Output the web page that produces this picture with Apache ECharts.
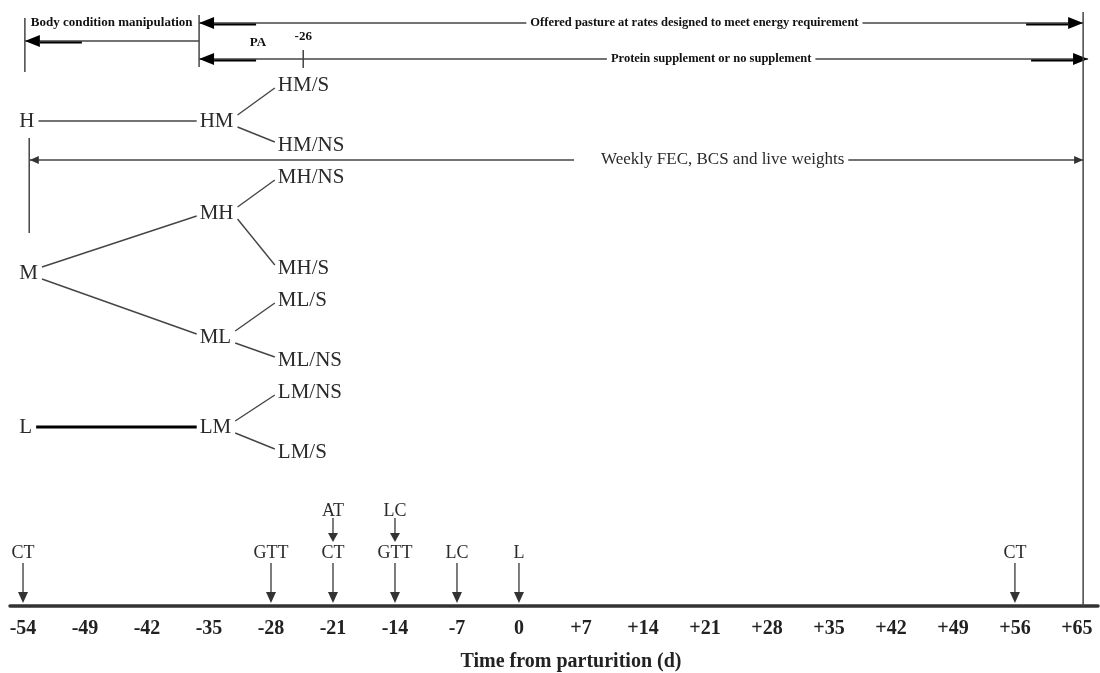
<!DOCTYPE html>
<html>
<head>
<meta charset="utf-8">
<title>Experimental timeline</title>
<script src="https://cdn.jsdelivr.net/npm/echarts@6/dist/echarts.min.js"></script>
<style>
  html, body { margin: 0; padding: 0; background: #fff; }
  #chart { width: 1100px; height: 673px; }
</style>
</head>
<body>
<div id="chart"></div>
<script>
// time axis, one slot per label (the figure is not drawn to scale)
const dayLabels = ['-54', '-49', '-42', '-35', '-28', '-21', '-14', '-7', '0',
  '+7', '+14', '+21', '+28', '+35', '+42', '+49', '+56', '+65'];

// diagram positions: x in axis slots (0 = -54 d, 17 = +65 d), y in rows above the time axis
const groupNames = ['H', 'HM', 'HM/S', 'HM/NS', 'M', 'MH', 'MH/NS', 'MH/S',
  'ML', 'ML/S', 'ML/NS', 'L', 'LM', 'LM/NS', 'LM/S'];
const groupX = [-0.06, 2.85, 4.11, 4.11, -0.06, 2.85, 4.11, 4.11,
  2.85, 4.11, 4.11, -0.06, 2.85, 4.11, 4.11];
const groupY = [48.5, 48.5, 52.1, 46.1, 33.3, 39.3, 42.9, 33.8,
  26.9, 30.6, 24.6, 17.9, 17.9, 21.4, 15.4];
const groupLinks = [['H', 'HM'], ['HM', 'HM/S'], ['HM', 'HM/NS'],
  ['M', 'MH'], ['M', 'ML'], ['MH', 'MH/NS'], ['MH', 'MH/S'],
  ['ML', 'ML/S'], ['ML', 'ML/NS'], ['L', 'LM'], ['LM', 'LM/NS'], ['LM', 'LM/S']];

const periodNames = ['Body condition manipulation',
  'Offered pasture at rates designed to meet energy requirement',
  'Protein supplement or no supplement',
  'Weekly FEC, BCS and live weights'];
const periodKind = ['treatment', 'treatment', 'treatment', 'sampling'];
const periodFrom = [2.84, 2.84, 2.84, 0.11];
const periodTo = [0.03, 17.10, 17.18, 17.10];
const periodRow = [56.5, 58.3, 54.7, 44.6];
const periodTwoHeads = [false, true, true, true];
const periodLabelX = [null, 10.83, 11.10, 11.10];

// upright rules: [x, top row, bottom row]
const ruleLines = [[0.03, 58.8, 53.4], [2.84, 59.1, 53.9], [4.52, 55.6, 53.8],
  [17.10, 59.4, 0], [0.10, 46.8, 37.3]];

const noteTexts = ['Body condition manipulation', 'PA', '-26'];
const noteX = [1.43, 3.79, 4.52];
const noteY = [58.3, 56.3, 56.9];

const eventNames = ['CT', 'GTT', 'CT', 'AT', 'GTT', 'LC', 'LC', 'L', 'CT'];
const eventDays = ['-54', '-28', '-21', '-21', '-14', '-14', '-7', '0', '+56'];
const eventTier = [0, 0, 0, 1, 0, 1, 0, 0, 0];

const SERIF = '"Liberation Serif", "DejaVu Serif", serif';
const ink = '#2a2a2a';
const lineInk = '#454545';
const nodeSize = 21;

const measure = document.createElement('canvas').getContext('2d');
function textWidth(str, size) {
  measure.font = size + 'px ' + SERIF;
  return measure.measureText(str).width;
}

function renderGroup(params, api) {
  const p = api.coord([api.value(0), api.value(1)]);
  return {
    type: 'text', x: p[0], y: p[1],
    style: { text: groupNames[params.dataIndex], fontFamily: SERIF, fontSize: nodeSize,
      fill: ink, align: 'left', verticalAlign: 'middle' }
  };
}

function renderLink(params, api) {
  const s = api.value(0), t = api.value(1);
  const ps = api.coord([groupX[s], groupY[s]]);
  const pt = api.coord([groupX[t], groupY[t]]);
  const dir = Math.sign(pt[1] - ps[1]);
  const heavy = groupNames[s] === 'L';
  return {
    type: 'line',
    shape: { x1: ps[0] + textWidth(groupNames[s], nodeSize) + 4, y1: ps[1] + dir * 6,
      x2: pt[0] - 3, y2: pt[1] - dir * 3 },
    style: { stroke: heavy ? '#000' : lineInk, lineWidth: heavy ? 3 : 1.4 }
  };
}

function renderPeriod(params, api) {
  const i = params.dataIndex;
  const a = api.coord([api.value(0), periodRow[i]]);
  const b = api.coord([api.value(1), periodRow[i]]);
  const heavy = periodKind[i] === 'treatment';
  const children = [{
    type: 'line', shape: { x1: a[0], y1: a[1], x2: b[0], y2: b[1] },
    style: { stroke: lineInk, lineWidth: 1.5 }
  }];
  const heads = periodTwoHeads[i] ? [[a, b], [b, a]] : [[a, b]];
  heads.forEach(function (h) {
    const f = h[0], tip = h[1];
    const d = Math.sign(tip[0] - f[0]);
    const len = heavy ? 15 : 9, half = heavy ? 6 : 4;
    children.push({
      type: 'polygon',
      shape: { points: [[tip[0] - d * len, tip[1] - half], [tip[0] - d * len, tip[1] + half], [tip[0], tip[1]]] },
      style: { fill: heavy ? '#000' : '#333' }
    });
    if (heavy) {
      children.push({
        type: 'line',
        shape: { x1: tip[0] - d * len, y1: tip[1] + 1.5, x2: tip[0] - d * (len + 42), y2: tip[1] + 1.5 },
        style: { stroke: '#000', lineWidth: 2.2 }
      });
    }
  });
  if (periodLabelX[i] != null) {
    const c = api.coord([periodLabelX[i], periodRow[i]]);
    children.push({
      type: 'text', x: c[0], y: c[1],
      style: {
        text: periodNames[i], fontFamily: SERIF,
        fontSize: heavy ? 12.5 : 17, fontWeight: heavy ? 'bold' : 'normal',
        fill: heavy ? '#111' : ink, align: 'center', verticalAlign: 'middle',
        backgroundColor: '#fff', padding: heavy ? [2, 4] : [2, 4, 2, 27]
      }
    });
  }
  return { type: 'group', children: children };
}

function renderRule(params, api) {
  const top = api.coord([api.value(0), api.value(1)]);
  const bottom = api.coord([api.value(0), api.value(2)]);
  return {
    type: 'line', shape: { x1: top[0], y1: top[1], x2: bottom[0], y2: bottom[1] },
    style: { stroke: lineInk, lineWidth: 1.5 }
  };
}

function renderNote(params, api) {
  const p = api.coord([api.value(0), api.value(1)]);
  return {
    type: 'text', x: p[0], y: p[1],
    style: { text: noteTexts[params.dataIndex], fontFamily: SERIF, fontSize: 13,
      fontWeight: 'bold', fill: '#111', align: 'center', verticalAlign: 'middle' }
  };
}

function renderEvent(params, api) {
  const i = params.dataIndex;
  const base = api.coord([api.value(0), 0]);
  const tier = eventTier[i];
  const x = base[0];
  const tip = base[1] - (tier ? 64 : 3);
  const head = tier ? 9 : 11;
  return {
    type: 'group',
    children: [
      { type: 'text', x: x, y: base[1] - (tier ? 95 : 53),
        style: { text: eventNames[i], fontFamily: SERIF, fontSize: 18, fill: ink,
          align: 'center', verticalAlign: 'middle' } },
      { type: 'line', shape: { x1: x, y1: base[1] - (tier ? 88 : 43), x2: x, y2: tip - head },
        style: { stroke: lineInk, lineWidth: 1.4 } },
      { type: 'polygon', shape: { points: [[x - 5, tip - head], [x + 5, tip - head], [x, tip]] },
        style: { fill: '#333' } }
    ]
  };
}

const chart = echarts.init(document.getElementById('chart'));

const option = {
  backgroundColor: '#fff',
  animation: false,
  grid: { left: 10, right: 2, top: 0, bottom: 67, outerBoundsMode: 'none' },
  xAxis: {
    type: 'value',
    min: -0.21,
    max: 17.34,
    name: 'Time from parturition (d)',
    nameLocation: 'middle',
    nameGap: 46,
    nameTextStyle: { fontFamily: SERIF, fontWeight: 'bold', fontSize: 20, color: '#222',
      padding: [0, 0, 0, 34] },
    axisLine: { onZero: false, lineStyle: { color: '#333', width: 3.5 } },
    axisTick: { show: false },
    splitLine: { show: false },
    axisLabel: {
      customValues: dayLabels.map(function (d, i) { return i; }),
      formatter: function (v) { return dayLabels[Math.round(v)]; },
      margin: 13,
      fontFamily: SERIF,
      fontWeight: 'bold',
      fontSize: 20,
      color: '#222'
    }
  },
  yAxis: { type: 'value', min: 0, max: 60.6, show: false },
  series: [
    { type: 'custom', name: 'links', renderItem: renderLink, silent: true,
      data: groupLinks.map(function (l) { return [groupNames.indexOf(l[0]), groupNames.indexOf(l[1])]; }) },
    { type: 'custom', name: 'groups', renderItem: renderGroup, silent: true,
      data: groupNames.map(function (n, i) { return [groupX[i], groupY[i]]; }) },
    { type: 'custom', name: 'periods', renderItem: renderPeriod, silent: true,
      data: periodNames.map(function (n, i) { return [periodFrom[i], periodTo[i]]; }) },
    { type: 'custom', name: 'rules', renderItem: renderRule, silent: true,
      data: ruleLines },
    { type: 'custom', name: 'notes', renderItem: renderNote, silent: true,
      data: noteTexts.map(function (n, i) { return [noteX[i], noteY[i]]; }) },
    { type: 'custom', name: 'events', renderItem: renderEvent, silent: true,
      data: eventDays.map(function (d) { return [dayLabels.indexOf(d), 0]; }) }
  ]
};

chart.setOption(option);
</script>
</body>
</html>
